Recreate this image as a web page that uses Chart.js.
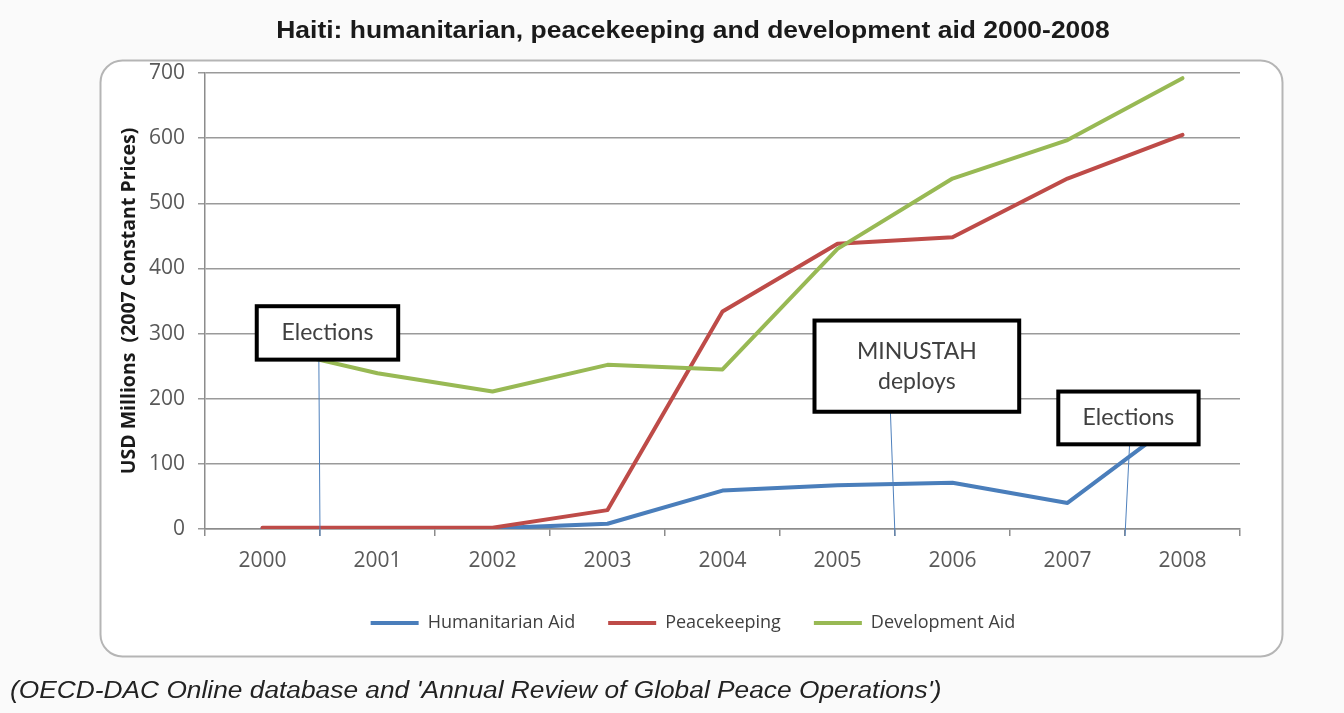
<!DOCTYPE html>
<html>
<head>
<meta charset="utf-8">
<script src="https://cdn.jsdelivr.net/npm/chart.js@4.4.1/dist/chart.umd.min.js"></script>
<style>
  html, body { margin: 0; padding: 0; background: #fafafa; }
  #wrap { position: relative; width: 1344px; height: 713px; overflow: hidden; }
  #chart-1 { position: absolute; left: 0; top: 0; }
  #title { position: absolute; left: 693px; top: 17px; transform: translateX(-50%) scaleX(1.15); white-space: nowrap;
           font: bold 23px "Liberation Sans", Arial, sans-serif; color: #1a1a1a; }
  #source { position: absolute; left: 10px; top: 677px; transform-origin: left center; transform: scaleX(1.144);
            white-space: nowrap; font: italic 23px "Liberation Sans", Arial, sans-serif; color: #222; }
</style>
</head>
<body>
<div id="wrap">
  <canvas id="chart-1" width="1344" height="713"></canvas>
  <div id="title">Haiti: humanitarian, peacekeeping and development aid 2000-2008</div>
  <div id="source">(OECD-DAC Online database and 'Annual Review of Global Peace Operations')</div>
</div>
<script>
const years = ["2000", "2001", "2002", "2003", "2004", "2005", "2006", "2007", "2008"];
const humanitarian = [1, 1, 1, 8, 59, 67, 71, 40, 172];
const peacekeeping = [2, 2, 2, 29, 334, 438, 448, 538, 605];
const development = [280, 239, 211, 252, 245, 430, 538, 597, 692];
const yTicks = [0, 100, 200, 300, 400, 500, 600, 700];

// callouts: box corners in (category index, value), pointer from box to the axis
const callouts = [
  { text: ["Elections"], x0: -0.05, x1: 1.18, y0: 260, y1: 342, from: 0.49, to: 0.5 },
  { text: ["MINUSTAH", "deploys"], x0: 4.8, x1: 6.58, y0: 180, y1: 320, from: 5.46, to: 5.5 },
  { text: ["Elections"], x0: 6.92, x1: 8.14, y0: 130, y1: 211, from: 7.54, to: 7.5 }
];

const frame = {
  id: "frame",
  beforeDraw(chart) {
    const c = chart.ctx;
    c.save();
    c.beginPath();
    c.roundRect(100.5, 60.5, 1182, 596, 22);
    c.fillStyle = "#ffffff";
    c.fill();
    c.lineWidth = 2;
    c.strokeStyle = "#b5b5b5";
    c.stroke();
    c.restore();
  },
  afterLayout(chart) {
    // legend sits centred on the frame, not on the padded chart width
    chart.legend.left += 18;
    chart.legend.right += 18;
  }
};

const calloutPlugin = {
  id: "callouts",
  afterDatasetsDraw(chart) {
    const c = chart.ctx;
    const xs = chart.scales.x, ys = chart.scales.y;
    const axisY = ys.getPixelForValue(0) + 7;
    c.save();
    callouts.forEach(a => {
      const left = xs.getPixelForValue(a.x0), right = xs.getPixelForValue(a.x1);
      const top = ys.getPixelForValue(a.y1), bottom = ys.getPixelForValue(a.y0);
      c.beginPath();
      c.moveTo(xs.getPixelForValue(a.from), bottom);
      c.lineTo(xs.getPixelForValue(a.to), axisY);
      c.lineWidth = 1;
      c.strokeStyle = "#4f81bd";
      c.stroke();
      c.fillStyle = "#ffffff";
      c.fillRect(left, top, right - left, bottom - top);
      c.lineWidth = 4;
      c.strokeStyle = "#000000";
      c.strokeRect(left, top, right - left, bottom - top);
      c.fillStyle = "#404040";
      c.font = '23px Lato, "Open Sans", sans-serif';
      c.textAlign = "center";
      c.textBaseline = "middle";
      const cx = (left + right) / 2, cy = (top + bottom) / 2;
      a.text.forEach((t, i) => {
        c.fillText(t, cx, cy + (i - (a.text.length - 1) / 2) * 30);
      });
    });
    c.restore();
  }
};

const ctx1 = document.getElementById("chart-1").getContext("2d");
const myChart = new Chart(ctx1, {
  type: "line",
  data: {
    labels: years,
    datasets: [
      { label: "Humanitarian Aid", data: humanitarian, borderColor: "#4a7ebb", backgroundColor: "#4a7ebb", borderWidth: 4, order: 3 },
      { label: "Peacekeeping", data: peacekeeping, borderColor: "#be4b48", backgroundColor: "#be4b48", borderWidth: 4, order: 2 },
      { label: "Development Aid", data: development, borderColor: "#98b954", backgroundColor: "#98b954", borderWidth: 4, order: 1 }
    ]
  },
  options: {
    responsive: false,
    animation: false,
    elements: {
      line: { tension: 0, borderJoinStyle: "round", borderCapStyle: "round" },
      point: { radius: 0, hoverRadius: 0 }
    },
    layout: { padding: { left: 110, right: 104, top: 73, bottom: 71 } },
    plugins: {
      legend: {
        position: "bottom",
        labels: {
          usePointStyle: true,
          pointStyle: "line",
          pointStyleWidth: 48,
          padding: 33,
          color: "#404040",
          font: { family: '"Open Sans", sans-serif', size: 18 },
          sort: (a, b) => a.datasetIndex - b.datasetIndex
        }
      },
      title: { display: false },
      tooltip: { enabled: false }
    },
    scales: {
      x: {
        offset: true,
        grid: { offset: true, drawOnChartArea: false, tickLength: 7, color: "#8c8c8c", lineWidth: 1.5 },
        border: { color: "#8c8c8c", width: 1.5 },
        ticks: { padding: 12, color: "#595959", font: { family: '"Open Sans", sans-serif', size: 21 } },
        afterFit(scale) { scale.height = 52; }
      },
      y: {
        min: 0,
        max: 700,
        afterBuildTicks(scale) { scale.ticks = yTicks.map(v => ({ value: v })); },
        grid: { tickLength: 7, color: "#9a9a9a", lineWidth: 1.5 },
        border: { color: "#8c8c8c", width: 1.5 },
        ticks: { padding: 13, color: "#595959", font: { family: '"Open Sans", sans-serif', size: 21 } },
        title: {
          display: true,
          text: "USD Millions  (2007 Constant Prices)",
          color: "#1a1a1a",
          padding: { top: 8, bottom: 0 },
          font: { family: '"Open Sans", sans-serif', size: 19.5, weight: "bold" }
        },
        afterFit(scale) { scale.width = 95; }
      }
    }
  },
  plugins: [frame, calloutPlugin]
});
</script>
</body>
</html>
